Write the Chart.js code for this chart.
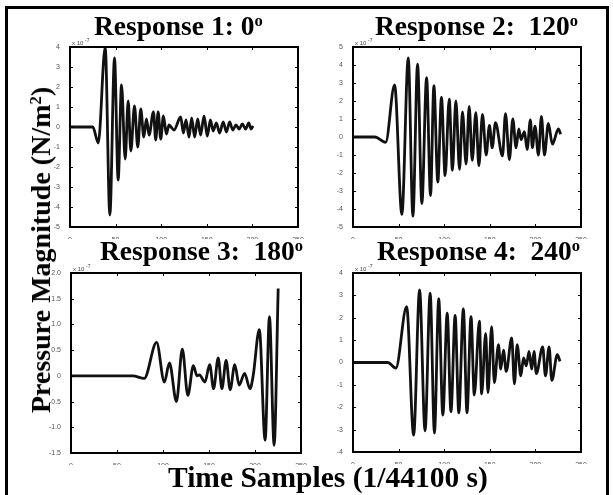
<!DOCTYPE html>
<html>
<head>
<meta charset="utf-8">
<script src="https://cdn.jsdelivr.net/npm/chart.js@4.4.1/dist/chart.umd.min.js"></script>
<style>
  body { margin: 0; background: #fff; }
  #page { position: relative; width: 613px; height: 495px; overflow: hidden; background: #fff; }
  #frame { position: absolute; left: 5px; top: 6px; width: 604px; height: 500px;
           border: 3px solid #000; border-bottom: none; box-sizing: border-box; }
  canvas.sub { position: absolute; }
  .ttl { position: absolute; font-family: "Liberation Serif", "Times New Roman", serif;
         font-weight: bold; color: #000; white-space: nowrap; line-height: 1; }
  .ttl sup { font-size: 60%; vertical-align: 0; position: relative; top: -0.55em; }
</style>
</head>
<body>
<div id="page">
  <div id="frame"></div>
  <canvas class="sub" id="c1"></canvas>
  <canvas class="sub" id="c2"></canvas>
  <canvas class="sub" id="c3"></canvas>
  <canvas class="sub" id="c4"></canvas>
  <div class="ttl" style="left:94px; top:12px; font-size:27.5px;">Response 1: 0<sup>o</sup></div>
  <div class="ttl" style="left:375px; top:12px; font-size:27.5px;">Response 2:&nbsp; 120<sup>o</sup></div>
  <div class="ttl" style="left:100px; top:237px; font-size:27.5px;">Response 3:&nbsp; 180<sup>o</sup></div>
  <div class="ttl" style="left:377px; top:237px; font-size:27.5px;">Response 4:&nbsp; 240<sup>o</sup></div>
  <div class="ttl" style="left:168px; top:463px; font-size:29.5px;">Time Samples (1/44100 s)</div>
  <div class="ttl" style="left:41px; top:250px; font-size:28px; transform: translate(-50%, -50%) rotate(-90deg);">Pressure Magnitude (N/m<sup>2</sup>)</div>
</div>

<script>
// ---------------------------
// Data (units of 1e-7)
// ---------------------------

const xTicks = [0, 50, 100, 150, 200, 250];

const r1X = [0, 25, 31, 38.6, 43.7, 48.8, 52.8, 56.5, 60.5, 63.8, 66.7, 70.7, 74.3, 77.6, 80.9,
  83.8, 86.7, 91.5, 94, 96.6, 99.5, 102.4, 105.7, 108.6, 110.8, 114, 121.4, 124.3, 127.2,
  130.5, 133.4, 136.7, 140, 143.2, 147, 150.5, 154, 157, 160.5, 164, 168, 171.5, 175, 178.5,
  182, 185.5, 189, 192.5, 196, 198.5, 200.8];
const r1Y = [0, 0, -0.8, 4.0, -4.4, 3.45, -2.65, 2.1, -1.6, 1.3, -1.2, 1.05, -1.0, 0.9, -0.5,
  0.4, -0.4, 0.75, -0.65, 0.75, -0.6, 0.55, -0.35, 0.1, 0.0, -0.15, 0.5, -0.3, 0.35,
  -0.5, 0.45, -0.5, 0.4, -0.4, 0.55, -0.45, 0.35, -0.2, 0.2, -0.3, 0.25, -0.25, 0.25, -0.15,
  0.1, -0.1, 0.15, -0.1, 0.2, -0.1, 0.05];

const r2X = [0, 24, 35.8, 45.6, 53.6, 60.6, 65.7, 70.8, 75.5, 80.7, 85, 88.7, 93, 97, 101,
  105.5, 109, 112.8, 116.8, 120, 124, 127.4, 130.7, 134.7, 138, 142, 146, 149.6, 152.6, 156.2,
  163.9, 167.2, 171.5, 175.2, 178.8, 181.8, 184.3, 188, 190.9, 194.5, 196.7, 199.6, 203.3,
  206.6, 209.9, 214.2, 218.6, 225.2, 227.7];
const r2Y = [0, 0, -0.3, 2.9, -4.3, 4.4, -4.4, 4.05, -3.7, 3.3, -3.25, 2.85, -2.5, 2.2, -2.15,
  2.1, -1.85, 2.0, -1.8, 1.4, -1.5, 1.7, -1.3, 1.35, -1.6, 1.25, -1.0, 0.65, -0.6, 0.8,
  -1.05, 1.3, -1.25, 1.0, -0.6, 0.45, -0.15, 0.3, -0.7, 0.95, -0.6, 0.6, -1.0,
  1.15, -1.0, 0.75, -0.4, 0.45, 0.15];

const r3X = [0, 67, 79.6, 93, 101.5, 107, 114.6, 121, 127, 133, 137, 139.5, 145.6, 150.7, 155,
  160, 164, 168.6, 173, 178, 182.8, 188.7, 194.5, 198, 204.7, 211, 215.7, 220.8, 225.2];
const r3Y = [0, 0, -0.05, 0.65, -0.12, 0.25, -0.5, 0.52, -0.38, 0.2, 0.0, 0.02, -0.12, 0.22, -0.25,
  0.35, -0.25, 0.3, -0.27, 0.22, -0.18, 0.05, -0.25, 0.0, 0.9, -1.25, 1.15, -1.35, 1.7];

const r4X = [0, 38, 47, 58.8, 66.5, 73, 79, 84.6, 89.3, 94, 98.5, 103.3, 107.4, 112, 116,
  121, 125, 129.4, 133, 138.6, 141, 145.5, 148, 152, 155, 159.5, 162, 165, 168, 174, 177,
  180, 184, 187, 190, 193, 196, 198.5, 201, 208, 211, 215, 218, 224, 227];
const r4Y = [0, 0, -0.25, 2.5, -3.25, 3.25, -3.05, 3.1, -3.15, 2.85, -2.35, 2.2, -2.2, 2.1, -2.25,
  2.4, -2.25, 2.05, -1.45, 1.85, -1.4, 1.3, -1.35, 1.6, -0.9, 0.8, -0.3, 0.55, -0.4, 1.1, -0.95,
  0.8, -0.6, 0.2, -0.15, 0.5, -0.3, 0.5, -0.5, 0.7, -0.6, 0.7, -0.8, 0.35, 0.05];

// axes boxes on the page: [left, top, right, bottom], y range, y step
const panels = [
  { id: "c1", box: [70, 47, 298, 227], yMin: -5, yMax: 4, step: 1, xs: r1X, ys: r1Y },
  { id: "c2", box: [353, 47, 581, 227], yMin: -5, yMax: 5, step: 1, xs: r2X, ys: r2Y },
  { id: "c3", box: [71, 273, 301, 453], yMin: -1.5, yMax: 2, step: 0.5, xs: r3X, ys: r3Y },
  { id: "c4", box: [353, 273, 581, 452], yMin: -4, yMax: 4, step: 1, xs: r4X, ys: r4Y }
];

// ---------------------------
// Matlab-ish box + inward ticks
// ---------------------------

const boxPlugin = {
  id: "mbox",
  afterDatasetsDraw(chart) {
    const { ctx, chartArea: a, scales } = chart;
    ctx.save();
    ctx.strokeStyle = "#000";
    ctx.lineWidth = 1;
    ctx.beginPath();
    scales.x.ticks.forEach((t) => {
      const px = Math.round(scales.x.getPixelForValue(t.value)) + 0.5;
      ctx.moveTo(px, a.bottom); ctx.lineTo(px, a.bottom - 3);
      ctx.moveTo(px, a.top); ctx.lineTo(px, a.top + 3);
    });
    scales.y.ticks.forEach((t) => {
      const py = Math.round(scales.y.getPixelForValue(t.value)) + 0.5;
      ctx.moveTo(a.left, py); ctx.lineTo(a.left + 3, py);
      ctx.moveTo(a.right, py); ctx.lineTo(a.right - 3, py);
    });
    ctx.stroke();
    ctx.lineWidth = 2;
    ctx.strokeRect(a.left, a.top, a.right - a.left, a.bottom - a.top);
    // exponent label
    ctx.fillStyle = "#444";
    ctx.font = "6px 'Liberation Sans', sans-serif";
    ctx.textBaseline = "bottom";
    ctx.fillText("x 10", a.left + 2, a.top - 1);
    ctx.font = "5px 'Liberation Sans', sans-serif";
    ctx.fillText("-7", a.left + 15, a.top - 4);
    ctx.restore();
  }
};

function makePanel(p) {
  const [L, T, R, B] = p.box;
  const padL = 30, padT = 14, padR = 12, padB = 12;
  const cv = document.getElementById(p.id);
  cv.style.left = (L - padL) + "px";
  cv.style.top = (T - padT) + "px";
  cv.width = R - L + padL + padR;
  cv.height = B - T + padT + padB;
  cv.style.width = cv.width + "px";
  cv.style.height = cv.height + "px";

  const pts = p.xs.map((x, i) => ({ x: x, y: p.ys[i] }));

  new Chart(cv, {
    type: "line",
    data: {
      datasets: [{
        data: pts,
        borderColor: "#111",
        borderWidth: 2.8,
        pointRadius: 0,
        cubicInterpolationMode: "monotone",
        fill: false
      }]
    },
    options: {
      responsive: false,
      animation: false,
      events: [],
      layout: { padding: { left: 0, top: padT, right: padR, bottom: 0 } },
      plugins: { legend: { display: false }, tooltip: { enabled: false } },
      scales: {
        x: {
          type: "linear", min: 0, max: 250,
          afterBuildTicks: (s) => { s.ticks = xTicks.map((v) => ({ value: v })); },
          afterFit: (s) => { s.height = padB; },
          grid: { display: false },
          border: { display: false },
          ticks: { color: "#555", padding: 1, maxRotation: 0,
                   font: { family: "Liberation Sans", size: 7 } }
        },
        y: {
          min: p.yMin, max: p.yMax,
          afterFit: (s) => { s.width = padL; },
          grid: { display: false },
          border: { display: false },
          ticks: { stepSize: p.step, color: "#555", padding: 2,
                   font: { family: "Liberation Sans", size: 7 } }
        }
      }
    },
    plugins: [boxPlugin]
  });
}

panels.forEach(makePanel);
</script>
</body>
</html>
